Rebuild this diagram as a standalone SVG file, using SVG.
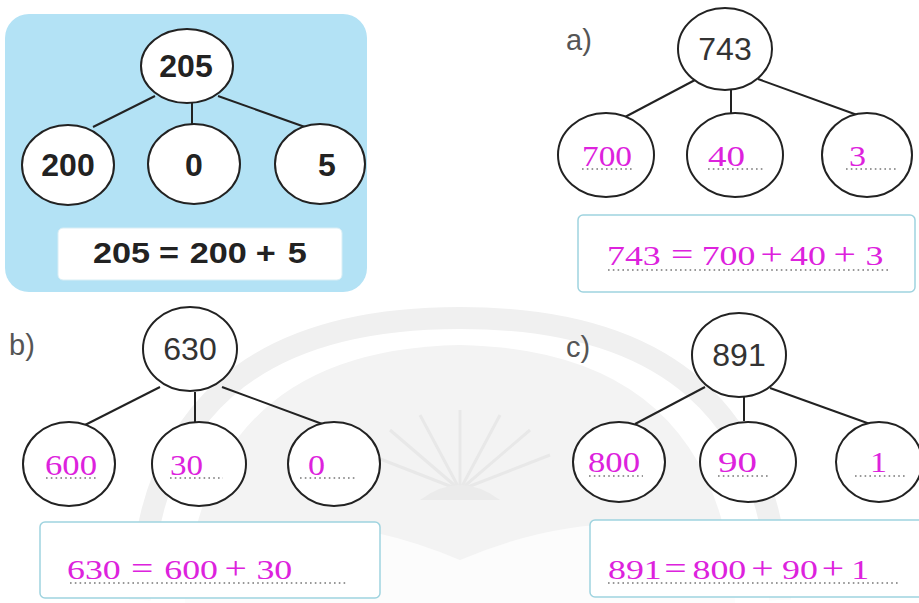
<svg xmlns="http://www.w3.org/2000/svg" width="919" height="603" viewBox="0 0 919 603">
<style>
.node{fill:#ffffff;stroke:#222;stroke-width:2}
.edge{stroke:#222;stroke-width:2;fill:none}
.bold{font-family:"Liberation Sans",Arial,sans-serif;font-weight:bold;font-size:32px;fill:#222;text-anchor:middle}
.eq0{font-family:"Liberation Sans",Arial,sans-serif;font-weight:bold;font-size:29px;fill:#222}
.num{font-family:"Liberation Sans",Arial,sans-serif;font-size:32px;fill:#333;text-anchor:middle}
.lbl{font-family:"Liberation Sans",Arial,sans-serif;font-size:29px;fill:#555}
.mag{font-family:"Liberation Serif","Times New Roman",serif;font-size:30px;fill:#dd22dd}
.meq{font-family:"Liberation Serif","Times New Roman",serif;font-size:28px;fill:#dd22dd}
.sym{font-size:31px}
.dots{stroke:#777;stroke-width:1.6;stroke-dasharray:1.6 3.2;fill:none}
.box{fill:#ffffff;stroke:#9fd3df;stroke-width:1.5}
.wm{fill:none;stroke:#f0f0f0}
</style>
<rect width="919" height="603" fill="#ffffff"/>
<g id="watermark">
<path class="wm" stroke-width="22" d="M140,600 Q150,318 460,318 Q770,318 780,600"/>
<path d="M185,603 Q200,350 460,345 Q720,350 735,603 Z" fill="#f3f3f3"/>
<path d="M60,603 Q250,470 460,560 Q670,470 860,603 Z" fill="#ffffff" opacity="0.7"/>
<g stroke="#e8e8e8" stroke-width="3">
<line x1="460" y1="490" x2="460" y2="410"/><line x1="460" y1="490" x2="420" y2="415"/><line x1="460" y1="490" x2="500" y2="415"/><line x1="460" y1="490" x2="390" y2="430"/><line x1="460" y1="490" x2="530" y2="430"/><line x1="460" y1="490" x2="370" y2="455"/><line x1="460" y1="490" x2="550" y2="455"/>
</g>
<path d="M420,500 Q460,470 500,500 Z" fill="#ebebeb"/>
</g>

<g id="example">
<rect x="5" y="14" width="362" height="278" rx="24" fill="#b3e2f5"/>
<g id="connectors-example">
<line class="edge" x1="155" y1="96" x2="93" y2="127"/>
<line class="edge" x1="192" y1="103" x2="192" y2="125"/>
<line class="edge" x1="218" y1="96" x2="305" y2="127"/>
</g>
<g id="ex-root"><ellipse class="node" cx="187" cy="66" rx="46" ry="37"/><text class="bold" x="186" y="77">205</text></g>
<g id="ex-200"><ellipse class="node" cx="68" cy="165" rx="46" ry="40"/><text class="bold" x="68" y="176">200</text></g>
<g id="ex-0"><ellipse class="node" cx="194" cy="164" rx="46" ry="40"/><text class="bold" x="194" y="176">0</text></g>
<g id="ex-5"><ellipse class="node" cx="320" cy="164" rx="45" ry="40"/><text class="bold" x="327" y="176">5</text></g>
<g id="ex-eq"><rect x="58" y="228" width="284" height="52" rx="5" fill="#ffffff" stroke="#d9eef5"/><text class="eq0" transform="translate(93,263) scale(1.18,1)"><tspan x="0">205</tspan><tspan x="56">=</tspan><tspan x="82">200</tspan><tspan x="138">+</tspan><tspan x="165">5</tspan></text></g>
</g>

<g id="part-a">
<text class="lbl" x="566" y="50">a)</text>
<g id="connectors-a">
<line class="edge" x1="695" y1="80" x2="625" y2="117"/>
<line class="edge" x1="731" y1="90" x2="731" y2="113"/>
<line class="edge" x1="758" y1="79" x2="860" y2="116"/>
</g>
<g id="a-root"><ellipse class="node" cx="725" cy="49" rx="47" ry="41"/><text class="num" x="725" y="60">743</text></g>
<g id="a-700"><ellipse class="node" cx="606" cy="155" rx="48" ry="42"/><text class="mag" x="582" y="166" textLength="50" lengthAdjust="spacingAndGlyphs">700</text><line class="dots" x1="582" y1="169" x2="634" y2="169"/></g>
<g id="a-40"><ellipse class="node" cx="735" cy="155" rx="48" ry="42"/><text class="mag" x="708" y="166" textLength="37" lengthAdjust="spacingAndGlyphs">40</text><line class="dots" x1="708" y1="169" x2="763" y2="169"/></g>
<g id="a-3"><ellipse class="node" cx="867" cy="155" rx="45" ry="42"/><text class="mag" x="849" y="166" textLength="17" lengthAdjust="spacingAndGlyphs">3</text><line class="dots" x1="846" y1="169" x2="898" y2="169"/></g>
<g id="a-eq"><rect class="box" x="578" y="215" width="337" height="77" rx="5"/><text class="meq" transform="translate(607,265) scale(1.28,1)"><tspan x="0">743</tspan><tspan class="sym" x="50">=</tspan><tspan x="74">700</tspan><tspan class="sym" x="120">+</tspan><tspan x="143">40</tspan><tspan class="sym" x="177">+</tspan><tspan x="202">3</tspan></text><line class="dots" x1="608" y1="270" x2="888" y2="270"/></g>
</g>

<g id="part-b">
<text class="lbl" x="9" y="355">b)</text>
<g id="connectors-b">
<line class="edge" x1="160" y1="387" x2="85" y2="425"/>
<line class="edge" x1="195" y1="392" x2="195" y2="422"/>
<line class="edge" x1="222" y1="387" x2="325" y2="425"/>
</g>
<g id="b-root"><ellipse class="node" cx="190" cy="349" rx="47" ry="42"/><text class="num" x="190" y="360">630</text></g>
<g id="b-600"><ellipse class="node" cx="69" cy="464" rx="46" ry="42"/><text class="mag" x="45" y="475" textLength="52" lengthAdjust="spacingAndGlyphs">600</text><line class="dots" x1="46" y1="478" x2="98" y2="478"/></g>
<g id="b-30"><ellipse class="node" cx="199" cy="464" rx="47" ry="42"/><text class="mag" x="170" y="475" textLength="33" lengthAdjust="spacingAndGlyphs">30</text><line class="dots" x1="170" y1="478" x2="223" y2="478"/></g>
<g id="b-0"><ellipse class="node" cx="334" cy="464" rx="46" ry="42"/><text class="mag" x="308" y="475" textLength="17" lengthAdjust="spacingAndGlyphs">0</text><line class="dots" x1="300" y1="478" x2="357" y2="478"/></g>
<g id="b-eq"><rect class="box" x="40" y="522" width="340" height="76" rx="5"/><text class="meq" transform="translate(67,579) scale(1.28,1)"><tspan x="0">630</tspan><tspan class="sym" x="50">=</tspan><tspan x="76">600</tspan><tspan class="sym" x="123">+</tspan><tspan x="148">30</tspan></text><line class="dots" x1="70" y1="583" x2="348" y2="583"/></g>
</g>

<g id="part-c">
<text class="lbl" x="566" y="357">c)</text>
<g id="connectors-c">
<line class="edge" x1="705" y1="387" x2="635" y2="424"/>
<line class="edge" x1="744" y1="397" x2="744" y2="421"/>
<line class="edge" x1="770" y1="388" x2="870" y2="424"/>
</g>
<g id="c-root"><ellipse class="node" cx="739" cy="355" rx="47" ry="42"/><text class="num" x="739" y="366">891</text></g>
<g id="c-800"><ellipse class="node" cx="619" cy="462" rx="46" ry="40"/><text class="mag" x="588" y="472" textLength="52" lengthAdjust="spacingAndGlyphs">800</text><line class="dots" x1="589" y1="476" x2="643" y2="476"/></g>
<g id="c-90"><ellipse class="node" cx="748" cy="462" rx="48" ry="40"/><text class="mag" x="718" y="472" textLength="39" lengthAdjust="spacingAndGlyphs">90</text><line class="dots" x1="718" y1="476" x2="770" y2="476"/></g>
<g id="c-1"><ellipse class="node" cx="879" cy="462" rx="43" ry="40"/><text class="mag" x="870" y="472" textLength="17" lengthAdjust="spacingAndGlyphs">1</text><line class="dots" x1="855" y1="476" x2="905" y2="476"/></g>
<g id="c-eq"><rect class="box" x="590" y="520" width="340" height="77" rx="5"/><text class="meq" transform="translate(608,579) scale(1.28,1)"><tspan x="0">891</tspan><tspan class="sym" x="44">=</tspan><tspan x="66">800</tspan><tspan class="sym" x="112">+</tspan><tspan x="136">90</tspan><tspan class="sym" x="167">+</tspan><tspan x="190">1</tspan></text><line class="dots" x1="608" y1="583" x2="900" y2="583"/></g>
</g>
</svg>
